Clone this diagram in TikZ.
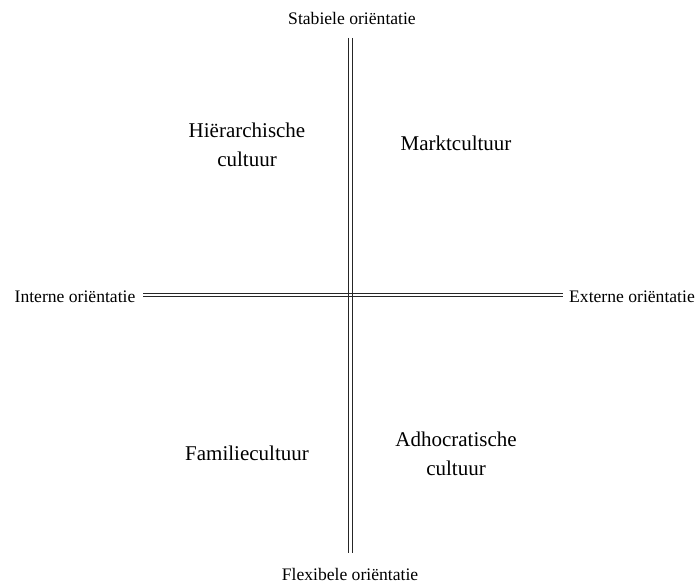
\documentclass[tikz,border=0pt]{standalone}
\usepackage{fontspec}
\setmainfont{Liberation Serif}
\usetikzlibrary{positioning}
\tikzset{
  axislabel/.style={font=\fontsize{17.6}{20}\selectfont, inner sep=0pt},
  quadlabel/.style={font=\fontsize{21}{29}\selectfont, align=center, inner sep=0pt},
  axisline/.style={line width=0.9pt, black!85}
}
\begin{document}
\begin{tikzpicture}[x=1pt, y=1pt]
\useasboundingbox (0,0) rectangle (698,586);
% axis labels
\node[axislabel] (stab) at (352,568) {Stabiele oriëntatie};
\node[axislabel] (flex) at (350,12) {Flexibele oriëntatie};
\node[axislabel] (int) at (75,289) {Interne oriëntatie};
\node[axislabel] (ext) at (632,289) {Externe oriëntatie};
% line ends
\coordinate (top) at (350.5,548);
\coordinate (bot) at (350.5,33);
\coordinate (left) at (143,291);
\coordinate (right) at (563,291);
% double axes
\draw[axisline] ([xshift=-1.7pt]top) -- ([xshift=-1.7pt]bot);
\draw[axisline] ([xshift=1.7pt]top) -- ([xshift=1.7pt]bot);
\draw[axisline] ([yshift=-1.7pt]left) -- ([yshift=-1.7pt]right);
\draw[axisline] ([yshift=1.7pt]left) -- ([yshift=1.7pt]right);
% quadrants
\node[quadlabel] (hier) at (247,441) {Hiërarchische\\cultuur};
\node[quadlabel] (markt) at (456,443) {Marktcultuur};
\node[quadlabel] (fam) at (247,133) {Familiecultuur};
\node[quadlabel] (adho) at (456,132) {Adhocratische\\cultuur};
\end{tikzpicture}
\end{document}
